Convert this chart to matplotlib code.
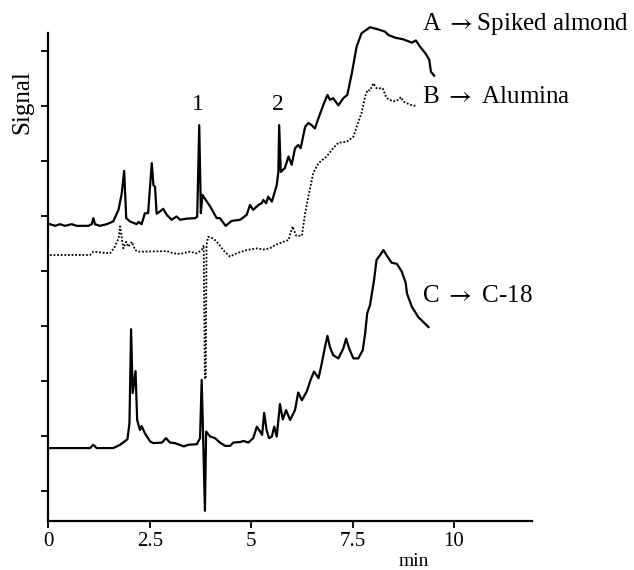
import matplotlib
matplotlib.use("Agg")
import matplotlib.pyplot as plt

# retention time (min) and signal (arbitrary units)
a_time = [0.04, 0.17, 0.29, 0.41, 0.58, 0.70, 0.99, 1.07, 1.11, 1.15, 1.27, 1.44, 1.60, 1.73,
          1.81, 1.87, 1.92, 2.01, 2.18, 2.22, 2.30, 2.38, 2.46, 2.55, 2.59, 2.63, 2.67, 2.75,
          2.83, 2.92, 3.04, 3.16, 3.25, 3.41, 3.62, 3.67, 3.72, 3.76, 3.80, 3.99, 4.15, 4.23,
          4.37, 4.52, 4.73, 4.89, 4.97, 5.05, 5.18, 5.26, 5.30, 5.37, 5.42, 5.51, 5.63, 5.67,
          5.69, 5.73, 5.83, 5.92, 6.00, 6.08, 6.16, 6.22, 6.33, 6.41, 6.49, 6.57, 6.66, 6.78,
          6.88, 6.94, 7.02, 7.15, 7.27, 7.37, 7.48, 7.60, 7.72, 7.93, 8.13, 8.30, 8.38, 8.55,
          8.75, 8.96, 9.06, 9.16, 9.29, 9.39, 9.43, 9.51]
a_signal = [48.5, 48.2, 48.5, 48.2, 48.5, 48.2, 48.2, 48.5, 49.6, 48.5, 48.2, 48.5, 49.0, 51.1,
            54.1, 58.2, 49.6, 49.0, 48.5, 48.9, 48.5, 50.5, 50.5, 59.6, 55.6, 55.3, 50.4, 50.8,
            51.3, 50.2, 49.3, 49.9, 49.3, 49.5, 49.6, 49.9, 66.5, 50.5, 53.8, 51.7, 49.6, 49.6,
            48.2, 49.1, 49.3, 50.2, 52.0, 51.1, 52.0, 52.3, 52.9, 52.3, 53.5, 52.6, 55.6, 58.0,
            66.5, 58.0, 58.7, 60.8, 59.3, 62.3, 62.9, 62.3, 66.2, 66.9, 66.5, 65.9, 67.8, 70.2,
            72.0, 71.1, 71.4, 70.1, 71.4, 72.0, 75.9, 80.8, 83.2, 84.3, 83.9, 83.5, 82.9, 82.4,
            82.1, 81.5, 81.9, 80.8, 79.6, 78.4, 76.2, 75.5]

b_time = [0.04, 1.03, 1.11, 1.52, 1.64, 1.73, 1.77, 1.85, 1.92, 1.97, 2.06, 2.14, 2.22, 2.92,
          3.08, 3.25, 3.49, 3.66, 3.78, 3.83, 3.86, 3.88, 3.90, 3.94, 4.07, 4.19, 4.31, 4.48,
          4.64, 4.89, 5.14, 5.30, 5.46, 5.59, 5.79, 5.92, 6.02, 6.11, 6.25, 6.33, 6.41, 6.53,
          6.66, 6.86, 7.02, 7.15, 7.36, 7.52, 7.60, 7.72, 7.81, 7.87, 7.93, 8.01, 8.09, 8.24,
          8.34, 8.50, 8.63, 8.69, 8.75, 8.92, 9.06]
b_signal = [42.9, 42.9, 43.5, 43.2, 44.4, 45.9, 48.1, 44.1, 45.3, 44.4, 45.3, 43.8, 43.5, 43.6,
            43.2, 43.1, 43.5, 43.2, 43.8, 44.7, 20.4, 20.4, 44.7, 46.2, 45.9, 45.0, 43.8, 42.6,
            43.2, 43.8, 44.1, 43.9, 44.1, 44.7, 45.3, 45.6, 48.1, 46.4, 46.4, 50.5, 53.5, 57.8,
            59.6, 60.8, 62.3, 63.3, 63.5, 64.4, 66.2, 68.7, 71.7, 72.9, 72.8, 74.1, 73.2, 73.2,
            71.4, 70.8, 71.1, 71.6, 70.8, 70.2, 70.0]

c_time = [0.04, 1.03, 1.11, 1.19, 1.60, 1.77, 1.95, 2.00, 2.04, 2.08, 2.15, 2.19, 2.26, 2.30,
          2.38, 2.51, 2.59, 2.80, 2.90, 3.00, 3.12, 3.34, 3.45, 3.66, 3.74, 3.78, 3.82, 3.86,
          3.89, 3.99, 4.11, 4.23, 4.36, 4.48, 4.56, 4.73, 4.81, 4.93, 5.05, 5.14, 5.22, 5.27,
          5.32, 5.38, 5.44, 5.51, 5.57, 5.63, 5.71, 5.78, 5.86, 5.96, 6.08, 6.16, 6.25, 6.37,
          6.47, 6.55, 6.66, 6.74, 6.82, 6.88, 6.94, 7.02, 7.15, 7.27, 7.34, 7.42, 7.52, 7.64,
          7.75, 7.81, 7.86, 7.93, 8.03, 8.09, 8.18, 8.26, 8.36, 8.46, 8.59, 8.71, 8.81, 8.84,
          8.96, 9.12, 9.37]
c_signal = [7.8, 7.8, 8.4, 7.8, 7.8, 8.4, 9.4, 12.3, 29.4, 17.8, 21.8, 12.9, 11.1, 11.8,
            10.5, 9.0, 8.7, 8.8, 9.6, 8.8, 8.7, 8.1, 8.4, 8.5, 9.6, 20.2, 8.7, -3.6,
            10.8, 9.9, 9.6, 8.8, 8.2, 8.2, 8.8, 8.9, 9.1, 8.8, 9.6, 11.7, 10.8, 10.2,
            14.2, 11.1, 9.6, 9.9, 11.7, 9.9, 15.8, 13.0, 14.7, 12.9, 14.7, 17.9, 16.5, 18.1,
            20.3, 21.7, 20.5, 23.2, 26.2, 28.2, 26.2, 24.7, 24.1, 25.9, 27.7, 25.8, 24.1, 24.1,
            25.6, 28.7, 32.3, 33.8, 38.4, 42.0, 42.9, 43.8, 42.6, 41.5, 41.3, 39.9, 37.8, 35.9,
            33.5, 31.6, 29.8]

x_ticks = [0, 2.5, 5, 7.5, 10]
x_tick_labels = ["0", "2.5", "5", "7.5", "10"]
y_ticks = [0, 10, 20, 30, 40, 50, 60, 70, 80]

serif = ["Liberation Serif", "DejaVu Serif"]
plt.rcParams['font.family'] = serif
plt.rcParams['mathtext.fontset'] = 'stix'

fig = plt.figure(figsize=(6.34, 5.70), dpi=100)
ax = fig.add_axes([0.0762, 0.0865, 0.7628, 0.8551])

ax.plot(a_time, a_signal, color='black', lw=1.6, clip_on=False)
ax.plot(b_time, b_signal, color='black', lw=1.3, linestyle=(0, (1, 1)), clip_on=False)
ax.plot(c_time, c_signal, color='black', lw=1.6, clip_on=False)

ax.set_xlim(0, 11.92)
ax.set_ylim(-5.4, 83.2)
ax.set_xticks(x_ticks)
ax.set_xticklabels(x_tick_labels)
ax.set_yticks(y_ticks)
ax.set_yticklabels([])
ax.tick_params(axis='both', direction='out', length=5, width=1.3, labelsize=15, pad=3)

for side in ['top', 'right']:
    ax.spines[side].set_visible(False)
for side in ['left', 'bottom']:
    ax.spines[side].set_linewidth(1.6)

fig.text(22 / 634, 1 - 102 / 570, "Signal", rotation=90, ha='center', va='center', fontsize=18)
fig.text(414 / 634, 1 - 562 / 570, "min", ha='center', va='center', fontsize=14)

ax.text(9.22, 84.9, r"A $\rightarrow$Spiked almond", ha='left', va='center', fontsize=18, clip_on=False)
ax.text(9.22, 71.6, r"B $\rightarrow$ Alumina", ha='left', va='center', fontsize=18, clip_on=False)
ax.text(9.22, 35.5, r"C $\rightarrow$ C-18", ha='left', va='center', fontsize=18, clip_on=False)
ax.text(3.69, 70.2, "1", ha='center', va='center', fontsize=17)
ax.text(5.66, 70.2, "2", ha='center', va='center', fontsize=17)

fig.savefig("out.png", dpi=100)
